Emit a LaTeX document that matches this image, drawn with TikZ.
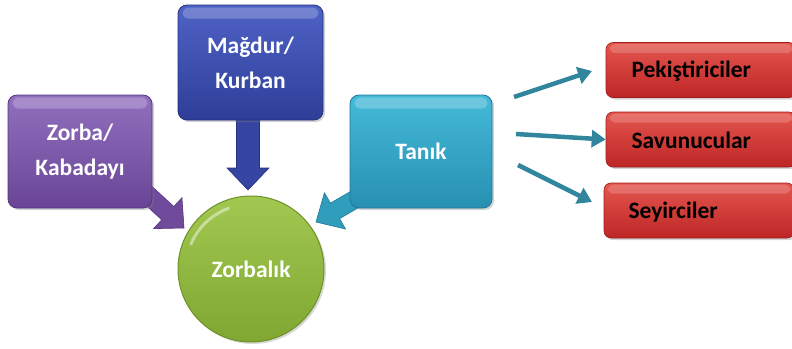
\documentclass[tikz,border=0pt]{standalone}
\usepackage{fontspec}
\setmainfont{Carlito}
\usetikzlibrary{calc,arrows.meta,shadows}
\definecolor{purT}{HTML}{9070BE}
\definecolor{purB}{HTML}{6A4596}
\definecolor{purD}{HTML}{553580}
\definecolor{bluT}{HTML}{4F63C6}
\definecolor{bluB}{HTML}{2E3E98}
\definecolor{bluD}{HTML}{25317E}
\definecolor{teaT}{HTML}{45BAD8}
\definecolor{teaB}{HTML}{2790B2}
\definecolor{teaD}{HTML}{1F7896}
\definecolor{grnT}{HTML}{A2C851}
\definecolor{grnB}{HTML}{7FA731}
\definecolor{grnD}{HTML}{6D9228}
\definecolor{redT}{HTML}{E4564E}
\definecolor{redB}{HTML}{BE2626}
\definecolor{redD}{HTML}{9E1C1C}
\definecolor{lineA}{HTML}{31869E}
\newcommand\myblockarrow[6]{%
  \coordinate (h@#1#2) at ($(#2)!#5!(#1)$);
  \filldraw[#6] ($(#1)!#3!90:(#2)$) -- ($(h@#1#2)!#3!-90:(#1)$) -- ($(h@#1#2)!#4!-90:(#1)$)
   -- (#2) -- ($(h@#1#2)!#4!90:(#1)$) -- ($(h@#1#2)!#3!90:(#1)$) -- ($(#1)!#3!-90:(#2)$) -- cycle;}
\tikzset{
  gbox/.style={rectangle, rounded corners=9pt, align=center, font=\fontsize{23.5}{35}\selectfont\bfseries,
    text=white, line width=0.8pt, drop shadow={shadow xshift=2pt, shadow yshift=-2pt, opacity=0.35}},
  rbox/.style={rectangle, rounded corners=7pt, minimum width=190pt, minimum height=55pt,
    top color=redT, bottom color=redB, draw=redD, line width=0.6pt,
    drop shadow={shadow xshift=2pt, shadow yshift=-2pt, opacity=0.35}},
  rtext/.style={anchor=west, font=\fontsize{23.5}{27}\selectfont\bfseries, text=black},
  thinarrow/.style={draw=lineA, line width=4.5pt, -{Triangle[length=14pt,width=17pt]}},
  gloss/.style={fill=white, opacity=0.22, rounded corners=6pt}
}
\begin{document}
\begin{tikzpicture}[x=1pt,y=-1pt]
\useasboundingbox (0,0) rectangle (792,348);
% block arrow coordinates
\coordinate (pa) at (136,184);
\coordinate (pb) at (184,228);
\coordinate (ba) at (248,112);
\coordinate (bb) at (248,190);
\coordinate (ta) at (364,194);
\coordinate (tb) at (316,222);
% circle
\node[circle, minimum size=146pt, top color=grnT, bottom color=grnB, draw=grnD, line width=1pt,
  font=\fontsize{23.5}{27}\selectfont\bfseries, text=white,
  drop shadow={shadow xshift=2pt, shadow yshift=-2pt, opacity=0.3}] (zb) at (251,269) {Zorbalık};
\draw[white, opacity=0.45, line width=3pt, line cap=round] ($(zb.center)+(-60,-25)$) arc[start angle=157, end angle=110, radius=65pt];
% block arrows
\myblockarrow{pa}{pb}{9pt}{21pt}{22pt}{fill=purB!85!purT, draw=purD, line width=0.6pt}
\myblockarrow{ba}{bb}{11.5pt}{21pt}{22pt}{fill=bluB!80!bluT, draw=bluD, line width=0.6pt}
\myblockarrow{ta}{tb}{9pt}{21pt}{22pt}{fill=teaB!70!teaT, draw=teaD, line width=0.6pt}
% boxes
\node[gbox, minimum width=144pt, minimum height=113pt, top color=purT, bottom color=purB, draw=purD] (zk) at (80,151.5) {Zorba/\\Kabadayı};
\node[gbox, minimum width=145pt, minimum height=115pt, top color=bluT, bottom color=bluB, draw=bluD] (mk) at (250.5,62.5) {Mağdur/\\Kurban};
\node[gbox, minimum width=142pt, minimum height=113pt, top color=teaT, bottom color=teaB, draw=teaD] (tn) at (421,151.5) {Tanık};
\foreach \b in {zk,mk,tn}{
  \fill[gloss] ($(\b.north west)+(5,3)$) rectangle ($(\b.north east)+(-5,14)$);
}
% red boxes
\node[rbox] (r1) at (701,70) {};
\node[rbox] (r2) at (701,139.5) {};
\node[rbox] (r3) at (699,210.5) {};
\foreach \b in {r1,r2,r3}{
  \fill[gloss, opacity=0.18] ($(\b.north west)+(4,2)$) rectangle ($(\b.north east)+(-4,11)$);
}
\node[rtext] (t1) at (628,71) {Pekiştiriciler};
\node[rtext] (t2) at (628,140) {Savunucular};
\node[rtext] (t3) at (625,212) {Seyirciler};
% thin arrows
\coordinate (s1) at (514,97);
\coordinate (s2) at (516,134);
\coordinate (s3) at (518,165);
\draw[thinarrow] (s1) -- (592,71);
\draw[thinarrow] (s2) -- (r2.west);
\draw[thinarrow] (s3) -- (592,202);
\end{tikzpicture}
\end{document}
